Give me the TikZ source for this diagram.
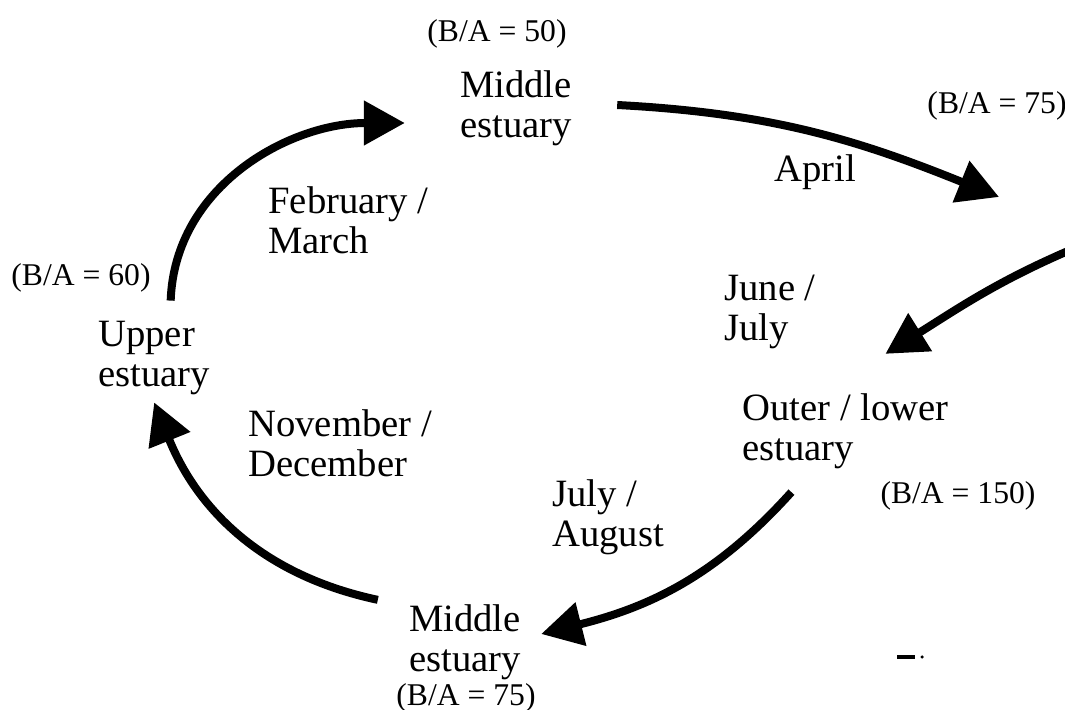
\documentclass[tikz,border=0pt]{standalone}
\usepackage{fontspec}
\setmainfont{Liberation Serif}
\usetikzlibrary{arrows.meta}

\begin{document}
\begin{tikzpicture}[
	flow/.style={line width=0.16cm,-{Triangle[length=0.82cm,width=0.86cm]}},
	place/.style={inner sep=0pt,align=center,font=\fontsize{22}{23}\selectfont},
	month/.style={inner sep=0pt,align=left,anchor=west,font=\fontsize{22}{23}\selectfont},
	ratio/.style={inner sep=0pt,font=\fontsize{18}{20}\selectfont}]
	\useasboundingbox (0,0) rectangle (21.3,14.2);
	\node[place] (midtop) at (10.32,12.04) {Middle\\estuary};
	\node[ratio] (ba50) at (9.94,13.52) {(B/A = 50)};
	\node[ratio] (ba75r) at (19.94,12.08) {(B/A = 75)};
	\node[place,align=left,anchor=west] (upper) at (1.96,7.04) {Upper\\estuary};
	\node[ratio] (ba60) at (1.62,8.64) {(B/A = 60)};
	\node[place,align=left,anchor=west] (outer) at (14.84,5.58) {Outer / lower\\estuary};
	\node[ratio] (ba150) at (19.16,4.28) {(B/A = 150)};
	\node[place] (midbot) at (9.3,1.36) {Middle\\estuary};
	\node[ratio] (ba75b) at (9.32,0.25) {(B/A = 75)};
	\node[month] (febmar) at (5.36,9.8) {February /\\March};
	\node[place] (april) at (16.3,10.76) {April};
	\node[month] (junjul) at (14.48,7.96) {June /\\July};
	\node[month] (julaug) at (11.04,3.86) {July /\\August};
	\node[month] (novdec) at (4.96,5.34) {November /\\December};
	\coordinate (offtop) at (19.98,10.26);
	\coordinate (offside) at (21.5,9.24);
	\draw[flow] ([xshift=0.33cm,yshift=0.4cm]upper.north) to[out=88,in=180] ([xshift=-1.1cm,yshift=-0.3cm]midtop.west);
	\draw[flow] ([xshift=0.9cm,yshift=0.06cm]midtop.east) to[out=-3,in=158] (offtop);
	\draw[flow] (offside) to[out=203,in=32] ([xshift=0.8cm,yshift=0.78cm]outer.north);
	\draw[flow] ([xshift=-1.08cm,yshift=-0.46cm]outer.south) to[out=228,in=14] ([xshift=0.4cm,yshift=0.16cm]midbot.east);
	\draw[flow] ([xshift=-0.62cm,yshift=0.08cm]midbot.north west) to[out=168,in=-68] ([yshift=-0.14cm]upper.south);
	\draw[line width=0.07cm] (17.94,1.06) -- (18.3,1.06);
	\fill (18.44,1.06) circle (0.035);
\end{tikzpicture}
\end{document}
